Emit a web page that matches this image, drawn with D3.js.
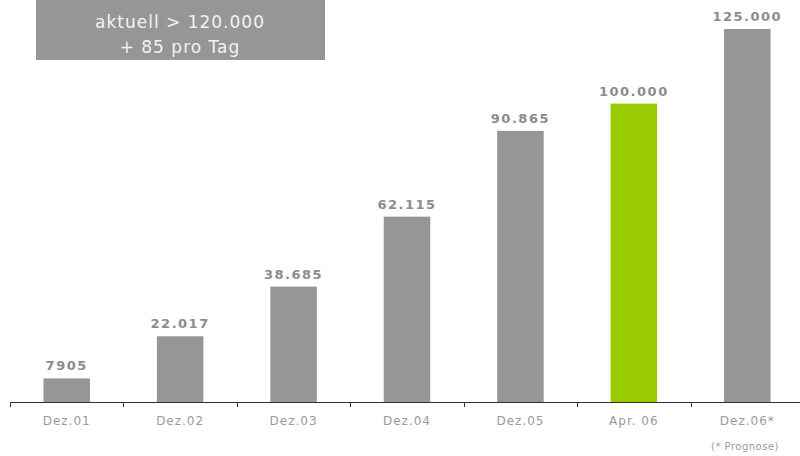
<!DOCTYPE html>
<html lang="de">
<head>
<meta charset="utf-8">
<title>Mitglieder</title>
<script src="https://cdn.jsdelivr.net/npm/d3@7"></script>
<style>
  body { margin: 0; background: #fff; }
  svg { display: block; font-family: "DejaVu Sans", Verdana, sans-serif; }
  .bar { fill: #969696; }
  .bar.hl { fill: #99cc00; }
  .val { fill: #8c8c8c; font-size: 13px; font-weight: bold; letter-spacing: 1.5px; text-anchor: middle; }
  .cat { fill: #9a9a9a; font-size: 12px; letter-spacing: 1px; text-anchor: middle; }
</style>
</head>
<body>
<div id="chart"></div>
<script>
// data
var categories = ["Dez.01", "Dez.02", "Dez.03", "Dez.04", "Dez.05", "Apr. 06", "Dez.06*"];
var values = [7905, 22017, 38685, 62115, 90865, 100000, 125000];
var valueLabels = ["7905", "22.017", "38.685", "62.115", "90.865", "100.000", "125.000"];
var highlight = "Apr. 06";
var boxLines = ["aktuell > 120.000", "+ 85 pro Tag"];
var footnote = "(* Prognose)";

var W = 800, H = 456;
var axisY = 402, plotLeft = 10, plotRight = 804, plotTop = 29;

var svg = d3.select("#chart").append("svg")
    .attr("width", W).attr("height", H);

var x = d3.scaleBand()
    .domain(categories)
    .range([plotLeft, plotRight])
    .paddingInner(0.59)
    .paddingOuter(0.295);

var y = d3.scaleLinear()
    .domain([0, 125000])
    .range([axisY, plotTop]);

// bars
svg.selectAll(".bar")
    .data(values)
    .enter().append("rect")
    .attr("class", function(d, i) { return categories[i] === highlight ? "bar hl" : "bar"; })
    .attr("x", function(d, i) { return x(categories[i]); })
    .attr("width", x.bandwidth())
    .attr("y", function(d) { return y(d); })
    .attr("height", function(d) { return axisY - y(d); });

// value labels
svg.selectAll(".val")
    .data(values)
    .enter().append("text")
    .attr("class", "val")
    .attr("x", function(d, i) { return x(categories[i]) + x.bandwidth() / 2; })
    .attr("y", function(d) { return y(d) - 8; })
    .text(function(d, i) { return valueLabels[i]; });

// axis line with ticks at band boundaries
var step = x.step();
svg.append("line")
    .attr("x1", plotLeft).attr("x2", W)
    .attr("y1", axisY + 0.5).attr("y2", axisY + 0.5)
    .attr("stroke", "#333").attr("stroke-width", 1.2);

svg.selectAll(".tick")
    .data(d3.range(categories.length))
    .enter().append("line")
    .attr("x1", function(i) { return Math.round(plotLeft + i * step) + 0.5; })
    .attr("x2", function(i) { return Math.round(plotLeft + i * step) + 0.5; })
    .attr("y1", axisY).attr("y2", axisY + 5)
    .attr("stroke", "#333");

svg.selectAll(".cat")
    .data(categories)
    .enter().append("text")
    .attr("class", "cat")
    .attr("x", function(d) { return x(d) + x.bandwidth() / 2; })
    .attr("y", 425)
    .text(function(d) { return d; });

svg.append("text")
    .attr("x", 745).attr("y", 450)
    .attr("text-anchor", "middle")
    .attr("fill", "#9a9a9a")
    .attr("font-size", "10px")
    .attr("letter-spacing", "0.5px")
    .text(footnote);

// info box
svg.append("rect")
    .attr("x", 36).attr("y", 0)
    .attr("width", 289).attr("height", 60)
    .attr("fill", "#969696");

svg.selectAll(".box")
    .data(boxLines)
    .enter().append("text")
    .attr("x", 180)
    .attr("y", function(d, i) { return 28 + i * 25; })
    .attr("text-anchor", "middle")
    .attr("fill", "#f2f2f2")
    .attr("font-size", "17px")
    .attr("letter-spacing", "1px")
    .text(function(d) { return d; });
</script>
</body>
</html>
